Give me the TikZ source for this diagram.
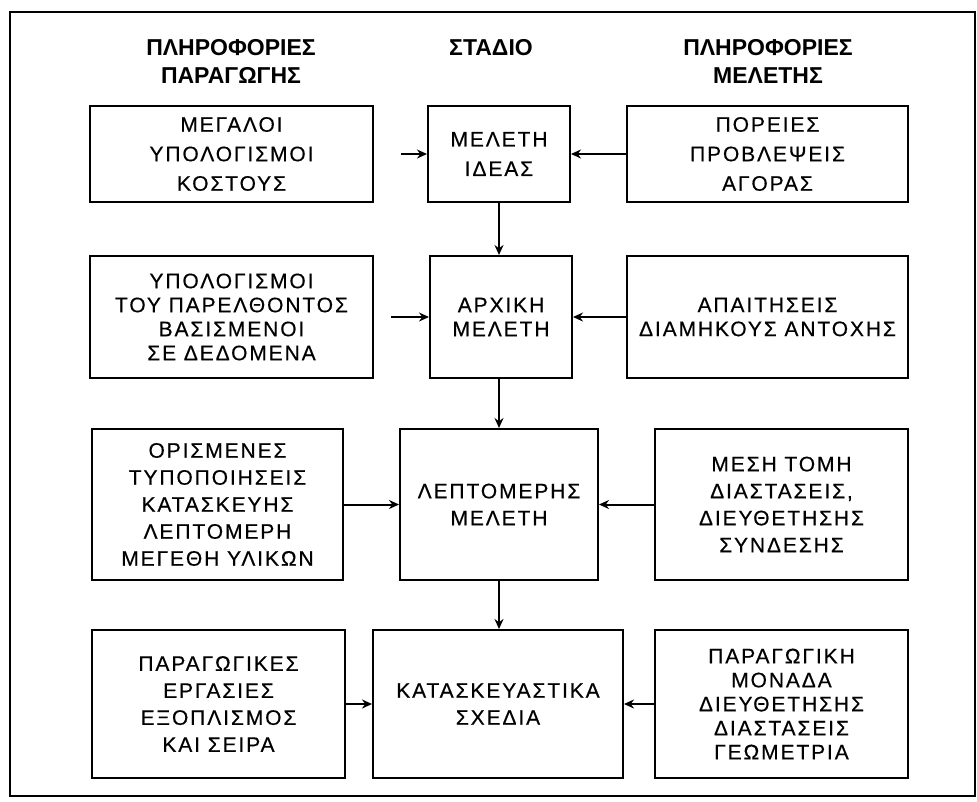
\documentclass[tikz,border=0pt]{standalone}
\usepackage{fontspec}
\setmainfont{Liberation Sans}
\newfontfamily\boxfont{Liberation Sans}[LetterSpace=9,FakeBold=0.4]
\usetikzlibrary{positioning,arrows.meta}
\tikzset{
  infobox/.style={draw, line width=2pt, align=center, inner sep=0pt,
    font=\boxfont\fontsize{21}{27}\selectfont},
  widebox/.style={infobox, font=\boxfont\fontsize{21}{29.5}\selectfont},
  tightbox/.style={infobox, font=\boxfont\fontsize{21}{24}\selectfont},
  heading/.style={align=center, font=\bfseries\fontsize{23}{28}\selectfont},
  flow/.style={->, line width=2pt}
}
\begin{document}
\begin{tikzpicture}[x=1pt,y=-1pt,>={Stealth[length=10pt,width=9pt]}]
  \useasboundingbox (0,0) rectangle (977,801);
  \draw[line width=2pt] (10,12) rectangle (975,796);
  % headings
  \node[heading, anchor=north] (hprod) at (231,36) {ΠΛΗΡΟΦΟΡΙΕΣ\\ΠΑΡΑΓΩΓΗΣ};
  \node[heading, anchor=north] (hstage) at (491,36) {ΣΤΑΔΙΟ};
  \node[heading, anchor=north] (hdesign) at (768,36) {ΠΛΗΡΟΦΟΡΙΕΣ\\ΜΕΛΕΤΗΣ};
  % row 1
  \node[widebox, minimum width=283, minimum height=96] (cost) at (231.5,154) {ΜΕΓΑΛΟΙ\\ΥΠΟΛΟΓΙΣΜΟΙ\\ΚΟΣΤΟΥΣ};
  \node[widebox, minimum width=142, minimum height=96] (idea) at (499,154) {ΜΕΛΕΤΗ\\ΙΔΕΑΣ};
  \node[widebox, minimum width=281, minimum height=96] (market) at (767.5,154) {ΠΟΡΕΙΕΣ\\ΠΡΟΒΛΕΨΕΙΣ\\ΑΓΟΡΑΣ};
  % row 2
  \node[tightbox, minimum width=283, minimum height=122] (past) at (231.5,317) {ΥΠΟΛΟΓΙΣΜΟΙ\\ΤΟΥ ΠΑΡΕΛΘΟΝΤΟΣ\\ΒΑΣΙΣΜΕΝΟΙ\\ΣΕ ΔΕΔΟΜΕΝΑ};
  \node[tightbox, minimum width=142, minimum height=122] (initial) at (501,317) {ΑΡΧΙΚΗ\\ΜΕΛΕΤΗ};
  \node[tightbox, minimum width=281, minimum height=122] (strength) at (767.5,317) {ΑΠΑΙΤΗΣΕΙΣ\\ΔΙΑΜΗΚΟΥΣ ΑΝΤΟΧΗΣ};
  % row 3
  \node[infobox, minimum width=251, minimum height=151] (sizes) at (217.5,504.5) {ΟΡΙΣΜΕΝΕΣ\\ΤΥΠΟΠΟΙΗΣΕΙΣ\\ΚΑΤΑΣΚΕΥΗΣ\\ΛΕΠΤΟΜΕΡΗ\\ΜΕΓΕΘΗ ΥΛΙΚΩΝ};
  \node[infobox, minimum width=198, minimum height=151] (detail) at (499,504.5) {ΛΕΠΤΟΜΕΡΗΣ\\ΜΕΛΕΤΗ};
  \node[infobox, minimum width=253, minimum height=151] (section) at (781.5,504.5) {ΜΕΣΗ ΤΟΜΗ\\ΔΙΑΣΤΑΣΕΙΣ,\\ΔΙΕΥΘΕΤΗΣΗΣ\\ΣΥΝΔΕΣΗΣ};
  % row 4
  \node[infobox, minimum width=253, minimum height=148] (works) at (218.5,704) {ΠΑΡΑΓΩΓΙΚΕΣ\\ΕΡΓΑΣΙΕΣ\\ΕΞΟΠΛΙΣΜΟΣ\\ΚΑΙ ΣΕΙΡΑ};
  \node[infobox, minimum width=250, minimum height=148] (drawings) at (498,704) {ΚΑΤΑΣΚΕΥΑΣΤΙΚΑ\\ΣΧΕΔΙΑ};
  \node[tightbox, minimum width=253, minimum height=148] (unit) at (781.5,704) {ΠΑΡΑΓΩΓΙΚΗ\\ΜΟΝΑΔΑ\\ΔΙΕΥΘΕΤΗΣΗΣ\\ΔΙΑΣΤΑΣΕΙΣ\\ΓΕΩΜΕΤΡΙΑ};
  % stage flow
  \draw[flow] (idea) -- (idea |- initial.north);
  \draw[flow] (idea |- initial.south) -- (idea |- detail.north);
  \draw[flow] (idea |- detail.south) -- (idea |- drawings.north);
  % side inputs
  \draw[flow, shorten <=27pt] (cost.east) -- (idea.west |- cost.east);
  \draw[flow] (market.west) -- (idea.east |- market.west);
  \draw[flow, shorten <=17pt] (past.east) -- (initial.west |- past.east);
  \draw[flow] (strength.west) -- (initial.east |- strength.west);
  \draw[flow] (sizes.east) -- (detail.west |- sizes.east);
  \draw[flow] (section.west) -- (detail.east |- section.west);
  \draw[flow] (works.east) -- (drawings.west |- works.east);
  \draw[flow] (unit.west) -- (drawings.east |- unit.west);
\end{tikzpicture}
\end{document}
